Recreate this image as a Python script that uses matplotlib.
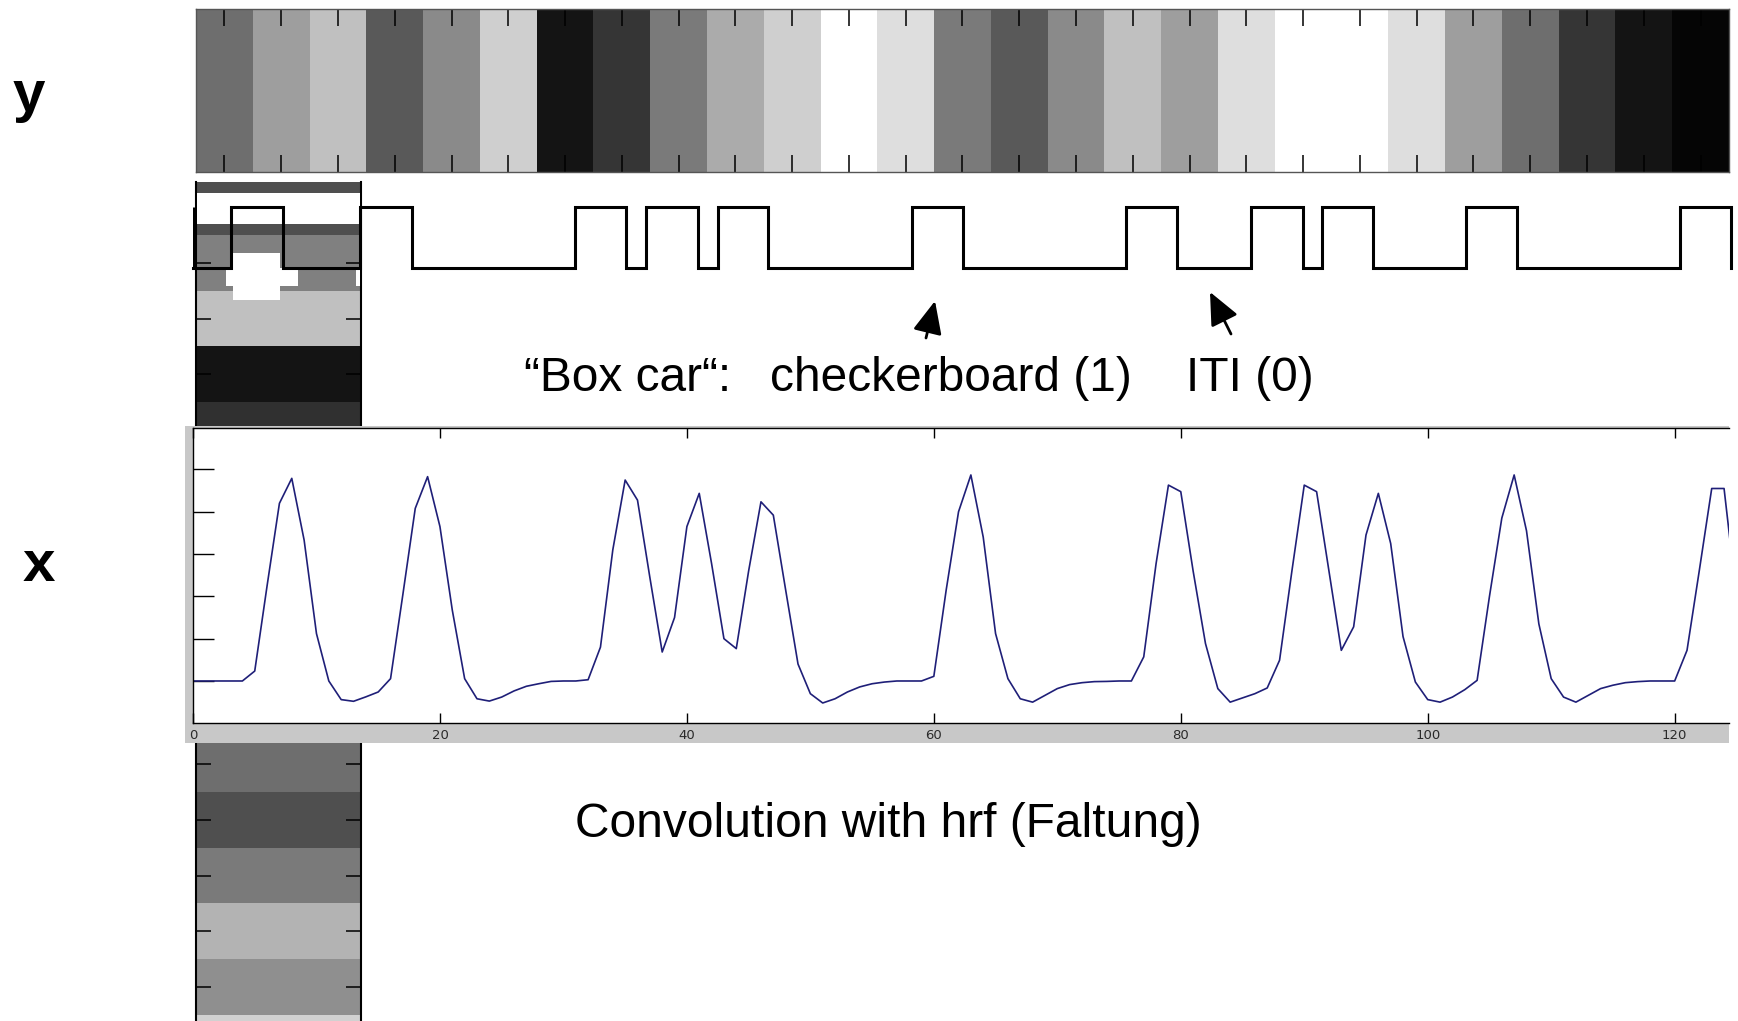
import numpy as np
import matplotlib.pyplot as plt
from matplotlib.patches import Rectangle, FancyArrowPatch

# gray level of each column of the data strip "y" (0 = black, 1 = white)
strip_vals = [0.43, 0.62, 0.75, 0.35, 0.54, 0.81, 0.08, 0.21, 0.48, 0.67, 0.81, 1.0, 0.87,
              0.48, 0.35, 0.54, 0.75, 0.62, 0.87, 1.0, 1.0, 0.87, 0.62, 0.43, 0.21, 0.08, 0.02]

# gray level of each row of the vertical design-matrix column
col_vals = [0.31, 0.50, 0.75, 0.08, 0.19, 0.45, 0.62, 0.30, 0.75, 0.55,
            0.43, 0.31, 0.48, 0.70, 0.56, 0.82]

# box car: stimulus on / off times (scans)
onsets = [3.1, 13.56, 30.9, 36.7, 42.5, 58.2, 75.6, 85.7, 91.4, 103.1, 120.4]
offsets = [7.26, 17.75, 35.1, 40.9, 46.6, 62.4, 79.7, 89.9, 95.6, 107.2, 124.6]

# convolved regressor, one value per scan
conv_t = list(range(126))
conv_vals = [0, 0, 0, 0, 0, 0.047, 0.45, 0.84, 0.958, 0.666,
             0.224, 0.0, -0.088, -0.096, -0.075, -0.052, 0.011, 0.41, 0.816, 0.966,
             0.73, 0.335, 0.011, -0.084, -0.095, -0.076, -0.047, -0.025, -0.013, -0.002,
             0, 0, 0.006, 0.16, 0.62, 0.95, 0.855, 0.49, 0.137, 0.30,
             0.73, 0.887, 0.555, 0.20, 0.153, 0.52, 0.847, 0.784, 0.43, 0.08,
             -0.06, -0.104, -0.084, -0.052, -0.028, -0.013, -0.005, 0, 0, 0,
             0.022, 0.43, 0.8, 0.974, 0.68, 0.224, 0.011, -0.084, -0.1, -0.068,
             -0.036, -0.017, -0.008, -0.003, -0.002, 0, 0, 0.114, 0.555, 0.926,
             0.895, 0.52, 0.177, -0.036, -0.1, -0.08, -0.06, -0.033, 0.098, 0.52,
             0.926, 0.895, 0.52, 0.145, 0.256, 0.69, 0.887, 0.65, 0.21, -0.005,
             -0.088, -0.1, -0.076, -0.041, 0.003, 0.40, 0.77, 0.974, 0.71, 0.27,
             0.011, -0.076, -0.1, -0.068, -0.036, -0.02, -0.008, -0.003, 0, 0,
             0, 0.145, 0.524, 0.91, 0.91, 0.4]
conv_xticks = [0, 20, 40, 60, 80, 100, 120]

W, H = 1738, 1021


def fbox(x0, y0, x1, y1):
    # pixel box (top-left origin) -> figure fraction rect
    return [x0 / W, 1 - y1 / H, (x1 - x0) / W, (y1 - y0) / H]


def fpt(x, y):
    return x / W, 1 - y / H


fig = plt.figure(figsize=(W / 100, H / 100), dpi=100)
fig.patch.set_facecolor('white')

# data strip y
ax_s = fig.add_axes(fbox(196, 9, 1729, 172))
ns = len(strip_vals)
ax_s.pcolormesh(np.arange(ns + 1), [0, 1], np.array(strip_vals)[None, :], cmap='gray',
                vmin=0, vmax=1, shading='flat', edgecolors='none')
ax_s.set_xticks(np.arange(ns) + 0.5)
ax_s.set_yticks([])
ax_s.set_xlim(0, ns)
ax_s.set_ylim(1, 0)
ax_s.tick_params(axis='x', direction='in', top=True, bottom=True, length=12, width=1.1,
                 color='black', labelbottom=False)
for sp in ax_s.spines.values():
    sp.set_color('#555555')
    sp.set_linewidth(1)

# design matrix column (runs behind the convolution plot)
ax_c = fig.add_axes(fbox(196, 182, 361, 1021))
nc = len(col_vals)
ax_c.pcolormesh([0, 1], np.arange(nc + 1), np.array(col_vals)[:, None], cmap='gray',
                vmin=0, vmax=1, shading='flat', edgecolors='none')
ax_c.set_xticks([])
ax_c.set_yticks(np.arange(nc) + 0.5)
ax_c.set_xlim(0, 1)
ax_c.set_ylim(15.11, 0.048)  # after set_yticks so the ticks do not widen it
ax_c.tick_params(axis='y', direction='in', left=True, right=True, length=11, width=1.1,
                 color='black', labelleft=False)
ax_c.spines['top'].set_visible(False)
ax_c.spines['bottom'].set_visible(False)
for s in ['left', 'right']:
    ax_c.spines[s].set_linewidth(1.5)
# white cut-outs left over on the slide
for (x0, y0, x1, y1) in [(197, 193, 360, 224), (233, 253, 280, 300), (226, 268, 298, 286),
                         (356, 268, 360, 286)]:
    fig.add_artist(Rectangle(fpt(x0, y1), (x1 - x0) / W, (y1 - y0) / H,
                             transform=fig.transFigure, facecolor='white',
                             edgecolor='none', zorder=1))

# box car
ax_b = fig.add_axes(fbox(193, 190, 1729, 285), zorder=2)
ax_b.patch.set_alpha(0)
ax_b.axis('off')
bx, by = [0], [0]
for on, off in zip(onsets, offsets):
    bx += [on, on, off, off]
    by += [0, 1, 1, 0]
ax_b.plot(bx, by, color='black', lw=2.2, solid_joinstyle='miter', clip_on=False)
ax_b.vlines(0, 0, 1, color='black', lw=2.2)
ax_b.set_xlim(0, 124.4)
ax_b.set_ylim(-0.289, 1.281)

# grey matlab frame behind the convolution plot
fig.add_artist(Rectangle(fpt(185, 743), (1729 - 185) / W, (743 - 426) / H,
                         transform=fig.transFigure, facecolor='#c8c8c8',
                         edgecolor='none', zorder=3))

ax_x = fig.add_axes(fbox(193, 428, 1729, 723), zorder=4)
ax_x.set_facecolor('white')
ax_x.plot(conv_t, conv_vals, color='#1f1f78', lw=1.2)
ax_x.set_xticks(conv_xticks)
ax_x.set_xticklabels([str(v) for v in conv_xticks])
ax_x.set_yticks([0, 0.2, 0.4, 0.6, 0.8, 1.0])
ax_x.set_xlim(0, 124.4)
ax_x.set_ylim(-0.1986, 1.196)
ax_x.tick_params(axis='x', direction='in', top=True, bottom=True, length=7, width=1,
                 pad=4, labelsize=9.5, labelcolor='#2a2a2a')
ax_x.tick_params(axis='y', direction='in', left=True, right=False, length=15, width=1,
                 labelleft=False)
ax_x.spines['right'].set_visible(False)
for s in ['left', 'bottom', 'top']:
    ax_x.spines[s].set_linewidth(1)

# labels and annotations
font = ['Liberation Sans', 'DejaVu Sans']
fig.text(*fpt(29, 111), 'y', fontsize=42, fontweight='bold', family=font,
         ha='center', va='baseline')
fig.text(*fpt(39, 581), 'x', fontsize=42, fontweight='bold', family=font,
         ha='center', va='baseline')
fig.text(*fpt(524, 391), '\u201cBox car\u201c:', fontsize=34.5,
         family=font, ha='left', va='baseline')
fig.text(*fpt(770, 391), 'checkerboard (1)', fontsize=34.5,
         family=font, ha='left', va='baseline')
fig.text(*fpt(1186, 391), 'ITI (0)', fontsize=34.5, family=font, ha='left', va='baseline')
fig.text(*fpt(575, 837), 'Convolution with hrf (Faltung)', fontsize=34.5, family=font,
         ha='left', va='baseline')

for tail, tip in [((926, 338), (935, 301)), ((1231, 334), (1210, 292))]:
    fig.add_artist(FancyArrowPatch(fpt(*tail), fpt(*tip), transform=fig.transFigure,
                                   arrowstyle='-|>,head_length=1.0,head_width=0.45',
                                   mutation_scale=20, color='black', lw=2,
                                   shrinkA=0, shrinkB=0, zorder=5))

fig.savefig('out.png', dpi=100)
